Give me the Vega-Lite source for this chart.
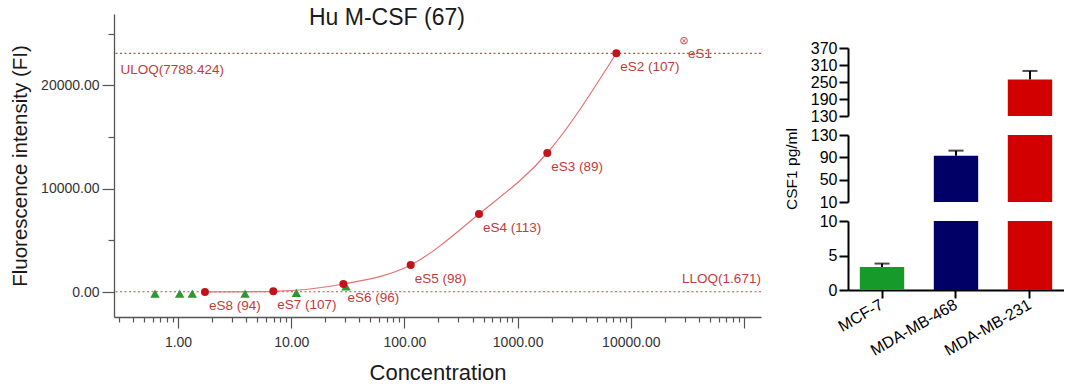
{
  "$schema": "https://vega.github.io/schema/vega-lite/v6.json",
  "background": "white",
  "padding": {"left": 10, "top": 7, "right": 0, "bottom": 0},
  "spacing": 22,
  "config": {
    "view": {"stroke": null},
    "font": "Liberation Sans",
    "axis": {"grid": false, "labelFont": "Liberation Sans", "titleFont": "Liberation Sans"}
  },
  "datasets": {
    "standards": [
      {"label": "eS8 (94)", "conc": 1.73, "fi": 20},
      {"label": "eS7 (107)", "conc": 6.95, "fi": 85},
      {"label": "eS6 (96)", "conc": 28.9, "fi": 790},
      {"label": "eS5 (98)", "conc": 113.7, "fi": 2630},
      {"label": "eS4 (113)", "conc": 456, "fi": 7560},
      {"label": "eS3 (89)", "conc": 1829, "fi": 13460},
      {"label": "eS2 (107)", "conc": 7450, "fi": 23100}
    ],
    "outlier": [{"label": "eS1", "conc": 29500, "fi": 24320}],
    "samples": [
      {"conc": 0.626, "fi": -150},
      {"conc": 1.035, "fi": -150},
      {"conc": 1.337, "fi": -150},
      {"conc": 3.91, "fi": -150},
      {"conc": 11.1, "fi": -60},
      {"conc": 30.5, "fi": 550}
    ],
    "loq": [
      {"name": "ULOQ", "label": "ULOQ(7788.424)", "fi": 23100, "conc": 0.31},
      {"name": "LLOQ", "label": "LLOQ(1.671)", "fi": 40, "conc": 141000}
    ],
    "csf1": [
      {"cell": "MCF-7", "mean": 3.33, "upper": 3.83},
      {"cell": "MDA-MB-468", "mean": 93, "upper": 102},
      {"cell": "MDA-MB-231", "mean": 259, "upper": 289}
    ]
  },
  "hconcat": [
    {
      "width": 647,
      "height": 303,
      "title": {"text": "Hu M-CSF (67)", "anchor": "start", "frame": "group", "dx": 195, "dy": 24, "offset": -3, "baseline": "middle", "fontSize": 23, "fontWeight": "normal", "color": "#1a1a1a", "font": "Liberation Sans"},
      "layer": [
        {
          "data": {"name": "loq"},
          "mark": {"type": "rule", "color": "#d64545", "strokeDash": [2, 2.5], "strokeWidth": 1.2},
          "encoding": {
            "y": {"field": "fi", "type": "quantitative", "title": "Fluorescence intensity (FI)",
              "scale": {"domain": [-2400, 26900], "nice": false, "zero": false},
              "axis": {"values": [0, 5000, 10000, 15000, 20000, 25000],
                "labelExpr": "datum.value % 10000 === 0 ? format(datum.value, '.2f') : ''",
                "tickSize": {"condition": {"test": "datum.value % 10000 === 0", "value": 12}, "value": 6},
                "labelPadding": 3, "labelFontSize": 14, "labelColor": "#333333",
                "tickColor": "#555555", "domainColor": "#555555", "domainWidth": 1.3, "tickWidth": 1.2,
                "titleFontSize": 20.5, "titleFontWeight": "normal", "titleColor": "#1a1a1a", "titlePadding": 10,
                "labelFlush": false, "labelOverlap": false}}
          }
        },
        {
          "data": {"name": "standards"},
          "mark": {"type": "line", "interpolate": "monotone", "color": "#e57373", "strokeWidth": 1.2},
          "encoding": {
            "x": {"field": "conc", "type": "quantitative", "title": "Concentration",
              "scale": {"type": "log", "domain": [0.272, 141300], "nice": false},
              "axis": {"values": [0.3, 0.4, 0.5, 0.6, 0.7, 0.8, 0.9, 1, 2, 3, 4, 5, 6, 7, 8, 9, 10, 20, 30, 40, 50, 60, 70, 80, 90, 100, 200, 300, 400, 500, 600, 700, 800, 900, 1000, 2000, 3000, 4000, 5000, 6000, 7000, 8000, 9000, 10000, 20000, 30000, 40000, 50000, 60000, 70000, 80000, 90000, 100000],
                "labelExpr": "abs(log(datum.value)/LN10 - round(log(datum.value)/LN10)) < 0.001 && datum.value < 50000 ? format(datum.value, '.2f') : ''",
                "tickSize": {"condition": {"test": "abs(log(datum.value)/LN10 - round(log(datum.value)/LN10)) < 0.001", "value": 11}, "value": 5},
                "labelPadding": 7, "labelFontSize": 14, "labelColor": "#333333",
                "tickColor": "#555555", "domainColor": "#555555", "domainWidth": 1.3, "tickWidth": 1.2,
                "titleFontSize": 22, "titleFontWeight": "normal", "titleColor": "#1a1a1a", "titlePadding": 13,
                "labelFlush": false, "labelOverlap": false}},
            "y": {"field": "fi", "type": "quantitative", "title": "Fluorescence intensity (FI)", "scale": {"domain": [-2400, 26900], "nice": false, "zero": false}}
          }
        },
        {
          "data": {"name": "samples"},
          "mark": {"type": "point", "shape": "triangle-up", "filled": true, "color": "#2a9a30", "size": 90, "opacity": 1},
          "encoding": {
            "x": {"field": "conc", "type": "quantitative", "title": "Concentration", "scale": {"type": "log", "domain": [0.272, 141300], "nice": false}},
            "y": {"field": "fi", "type": "quantitative", "title": "Fluorescence intensity (FI)", "scale": {"domain": [-2400, 26900], "nice": false, "zero": false}}
          }
        },
        {
          "data": {"name": "standards"},
          "mark": {"type": "circle", "color": "#c0131b", "size": 64, "opacity": 1},
          "encoding": {
            "x": {"field": "conc", "type": "quantitative", "title": "Concentration", "scale": {"type": "log", "domain": [0.272, 141300], "nice": false}},
            "y": {"field": "fi", "type": "quantitative", "title": "Fluorescence intensity (FI)", "scale": {"domain": [-2400, 26900], "nice": false, "zero": false}}
          }
        },
        {
          "data": {"name": "outlier"},
          "mark": {"type": "point", "shape": "circle", "filled": false, "color": "#d04848", "size": 45, "strokeWidth": 1, "opacity": 1},
          "encoding": {
            "x": {"field": "conc", "type": "quantitative", "title": "Concentration", "scale": {"type": "log", "domain": [0.272, 141300], "nice": false}},
            "y": {"field": "fi", "type": "quantitative", "title": "Fluorescence intensity (FI)", "scale": {"domain": [-2400, 26900], "nice": false, "zero": false}}
          }
        },
        {
          "data": {"name": "outlier"},
          "mark": {"type": "point", "shape": "M-0.5,-0.5L0.5,0.5M-0.5,0.5L0.5,-0.5", "filled": false, "color": "#d04848", "size": 45, "strokeWidth": 1, "opacity": 1},
          "encoding": {
            "x": {"field": "conc", "type": "quantitative", "title": "Concentration", "scale": {"type": "log", "domain": [0.272, 141300], "nice": false}},
            "y": {"field": "fi", "type": "quantitative", "title": "Fluorescence intensity (FI)", "scale": {"domain": [-2400, 26900], "nice": false, "zero": false}}
          }
        },
        {
          "data": {"name": "standards"},
          "mark": {"type": "text", "align": "left", "baseline": "middle", "dx": 4, "dy": 14, "fontSize": 13.5, "color": "#c23b3b", "font": "Liberation Sans"},
          "encoding": {
            "text": {"field": "label"},
            "x": {"field": "conc", "type": "quantitative", "title": "Concentration", "scale": {"type": "log", "domain": [0.272, 141300], "nice": false}},
            "y": {"field": "fi", "type": "quantitative", "title": "Fluorescence intensity (FI)", "scale": {"domain": [-2400, 26900], "nice": false, "zero": false}}
          }
        },
        {
          "data": {"name": "outlier"},
          "mark": {"type": "text", "align": "left", "baseline": "middle", "dx": 4, "dy": 13, "fontSize": 13.5, "color": "#c23b3b", "font": "Liberation Sans"},
          "encoding": {
            "text": {"field": "label"},
            "x": {"field": "conc", "type": "quantitative", "title": "Concentration", "scale": {"type": "log", "domain": [0.272, 141300], "nice": false}},
            "y": {"field": "fi", "type": "quantitative", "title": "Fluorescence intensity (FI)", "scale": {"domain": [-2400, 26900], "nice": false, "zero": false}}
          }
        },
        {
          "data": {"name": "loq"},
          "transform": [{"filter": "datum.name === 'ULOQ'"}],
          "mark": {"type": "text", "align": "left", "baseline": "middle", "dy": 16.5, "fontSize": 13.5, "color": "#c23b3b", "font": "Liberation Sans"},
          "encoding": {
            "text": {"field": "label"},
            "x": {"field": "conc", "type": "quantitative", "title": "Concentration", "scale": {"type": "log", "domain": [0.272, 141300], "nice": false}},
            "y": {"field": "fi", "type": "quantitative", "title": "Fluorescence intensity (FI)", "scale": {"domain": [-2400, 26900], "nice": false, "zero": false}}
          }
        },
        {
          "data": {"name": "loq"},
          "transform": [{"filter": "datum.name === 'LLOQ'"}],
          "mark": {"type": "text", "align": "right", "baseline": "middle", "dy": -13, "fontSize": 13.5, "color": "#c23b3b", "font": "Liberation Sans"},
          "encoding": {
            "text": {"field": "label"},
            "x": {"field": "conc", "type": "quantitative", "title": "Concentration", "scale": {"type": "log", "domain": [0.272, 141300], "nice": false}},
            "y": {"field": "fi", "type": "quantitative", "title": "Fluorescence intensity (FI)", "scale": {"domain": [-2400, 26900], "nice": false, "zero": false}}
          }
        }
      ]
    },
    {
      "spacing": 3,
      "vconcat": [
        {
          "width": 216,
          "height": 23,
          "data": {"values": []},
          "mark": "point",
          "encoding": {}
        },
        {
          "width": 216,
          "height": 68,
          "data": {"name": "csf1"},
          "encoding": {
            "x": {"field": "cell", "type": "nominal", "sort": ["MCF-7", "MDA-MB-468", "MDA-MB-231"], "scale": {"paddingInner": 0.4, "paddingOuter": 0.16}, "axis": null},
            "y": {"field": "mean", "type": "quantitative", "title": null, "scale": {"domain": [130, 370], "nice": false, "zero": false},
              "axis": {"values": [130, 190, 250, 310, 370], "tickCount": 5, "tickSize": 9, "tickWidth": 2, "tickColor": "black", "domainColor": "black", "domainWidth": 2, "labelPadding": 2, "labelFontSize": 16, "labelColor": "black", "labelFlush": false, "labelOverlap": false}}
          },
          "layer": [
            {"mark": {"type": "bar", "clip": true},
             "encoding": {"color": {"field": "cell", "type": "nominal", "scale": {"domain": ["MCF-7", "MDA-MB-468", "MDA-MB-231"], "range": ["#169b2b", "#000066", "#d30000"]}, "legend": null}}},
            {"mark": {"type": "rule", "clip": true, "color": "black", "strokeWidth": 2},
             "encoding": {"y2": {"field": "upper"}}},
            {"mark": {"type": "tick", "clip": true, "color": "black", "thickness": 2, "size": 15},
             "encoding": {"y": {"field": "upper", "type": "quantitative", "title": null, "scale": {"domain": [130, 370], "nice": false, "zero": false}}}}
          ]
        },
        {
          "width": 216,
          "height": 67,
          "data": {"name": "csf1"},
          "encoding": {
            "x": {"field": "cell", "type": "nominal", "sort": ["MCF-7", "MDA-MB-468", "MDA-MB-231"], "scale": {"paddingInner": 0.4, "paddingOuter": 0.16}, "axis": null},
            "y": {"field": "mean", "type": "quantitative", "title": "CSF1 pg/ml", "scale": {"domain": [10, 130], "nice": false, "zero": false},
              "axis": {"values": [10, 50, 90, 130], "tickCount": 4, "tickSize": 9, "tickWidth": 2, "tickColor": "black", "domainColor": "black", "domainWidth": 2, "labelPadding": 2, "labelFontSize": 16, "labelColor": "black", "labelFlush": false, "labelOverlap": false, "titleFontSize": 15.5, "titleFontWeight": "normal", "titleColor": "black", "titlePadding": 11}}
          },
          "layer": [
            {"mark": {"type": "bar", "clip": true},
             "encoding": {"color": {"field": "cell", "type": "nominal", "scale": {"domain": ["MCF-7", "MDA-MB-468", "MDA-MB-231"], "range": ["#169b2b", "#000066", "#d30000"]}, "legend": null}}},
            {"mark": {"type": "rule", "clip": true, "color": "black", "strokeWidth": 2},
             "encoding": {"y2": {"field": "upper"}}},
            {"mark": {"type": "tick", "clip": true, "color": "black", "thickness": 2, "size": 15},
             "encoding": {"y": {"field": "upper", "type": "quantitative", "title": "CSF1 pg/ml", "scale": {"domain": [10, 130], "nice": false, "zero": false}}}}
          ]
        },
        {
          "width": 216,
          "height": 69,
          "data": {"name": "csf1"},
          "encoding": {
            "x": {"field": "cell", "type": "nominal", "sort": ["MCF-7", "MDA-MB-468", "MDA-MB-231"], "scale": {"paddingInner": 0.4, "paddingOuter": 0.16},
              "axis": {"title": null, "labelAngle": -30, "labelAlign": "right", "labelBaseline": "middle", "labelFontSize": 16, "labelColor": "black", "tickSize": 8, "tickWidth": 2, "tickColor": "black", "domainColor": "black", "domainWidth": 2, "labelPadding": 5}},
            "y": {"field": "mean", "type": "quantitative", "title": null, "scale": {"domain": [0, 10], "nice": false, "zero": false},
              "axis": {"values": [0, 5, 10], "tickCount": 3, "tickSize": 9, "tickWidth": 2, "tickColor": "black", "domainColor": "black", "domainWidth": 2, "labelPadding": 2, "labelFontSize": 16, "labelColor": "black", "labelFlush": false, "labelOverlap": false}}
          },
          "layer": [
            {"mark": {"type": "bar", "clip": true},
             "encoding": {"color": {"field": "cell", "type": "nominal", "scale": {"domain": ["MCF-7", "MDA-MB-468", "MDA-MB-231"], "range": ["#169b2b", "#000066", "#d30000"]}, "legend": null}}},
            {"mark": {"type": "rule", "clip": true, "color": "black", "strokeWidth": 2},
             "encoding": {"y2": {"field": "upper"}}},
            {"mark": {"type": "tick", "clip": true, "color": "black", "thickness": 2, "size": 15},
             "encoding": {"y": {"field": "upper", "type": "quantitative", "title": null, "scale": {"domain": [0, 10], "nice": false, "zero": false}}}}
          ]
        }
      ]
    }
  ]
}
